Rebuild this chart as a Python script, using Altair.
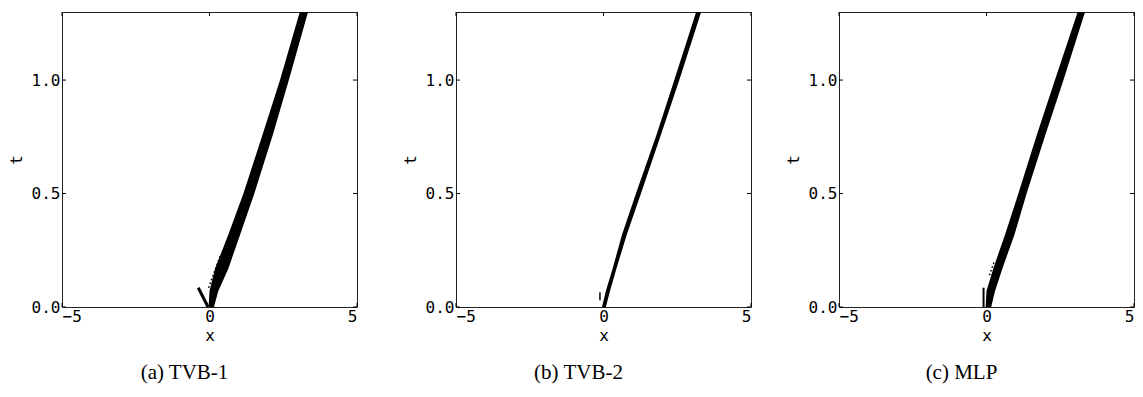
import altair as alt
import pandas as pd

# Axis ticks shared by all three panels
X_TICKS = [-5, 0, 5]
T_TICKS = [0.0, 0.5, 1.0]

# Time levels at which the troubled-cell band edges are sampled
T_LEVELS = [0.0, 0.07, 0.17, 0.32, 0.5, 0.76, 1.0, 1.3]

# (a) TVB-1: left / right edge of the flagged band
A_LEFT = [-0.03, 0.00, 0.19, 0.64, 1.15, 1.80, 2.39, 3.06]
A_RIGHT = [0.15, 0.30, 0.64, 1.04, 1.52, 2.15, 2.69, 3.34]
# short arm flagged near the origin, and a trail of isolated cells
A_ARM_X = [-0.38, -0.05]
A_ARM_T = [0.085, 0.0]
A_DOT_X = [-0.03, 0.36]
A_DOT_T = [0.085, 0.225]

# (b) TVB-2
B_LEFT = [-0.05, 0.08, 0.31, 0.63, 1.10, 1.80, 2.40, 3.14]
B_RIGHT = [0.08, 0.22, 0.44, 0.79, 1.27, 1.95, 2.57, 3.31]
B_ARM_X = [-0.12, -0.12]
B_ARM_T = [0.03, 0.065]

# (c) MLP
C_LEFT = [-0.03, 0.00, 0.23, 0.63, 1.08, 1.71, 2.32, 3.09]
C_RIGHT = [0.16, 0.29, 0.54, 0.95, 1.36, 2.00, 2.61, 3.34]
C_ARM_X = [-0.10, -0.10]
C_ARM_T = [0.0, 0.085]
C_DOT_X = [0.10, 0.26]
C_DOT_T = [0.14, 0.20]

W = 295
H = 295
MONO = "DejaVu Sans Mono"
TICK_LEN = 4

x_scale = alt.Scale(domain=[-5, 5], nice=False, zero=False)
t_scale = alt.Scale(domain=[0, 1.3], nice=False, zero=False)
x_axis = alt.Axis(values=X_TICKS, format="d", title="x", ticks=False, grid=False,
                  domain=False, labelPadding=1, titlePadding=3)
t_axis = alt.Axis(values=T_TICKS, format=".1f", title="t", ticks=False, grid=False,
                  domain=False, labelPadding=2, titlePadding=7)


def xenc(field):
    return alt.X(field, type="quantitative", scale=x_scale, axis=x_axis)


def tenc(field):
    return alt.Y(field, type="quantitative", scale=t_scale, axis=t_axis)


def inner_ticks():
    xt = pd.DataFrame({"xv": X_TICKS})
    tt = pd.DataFrame({"tv": T_TICKS})
    rule = dict(color="black", strokeWidth=1)
    top = alt.Chart(xt).mark_rule(**rule).encode(
        x=xenc("xv"), y=alt.value(0), y2=alt.value(TICK_LEN))
    bottom = alt.Chart(xt).mark_rule(**rule).encode(
        x=xenc("xv"), y=alt.value(H - TICK_LEN), y2=alt.value(H))
    left = alt.Chart(tt).mark_rule(**rule).encode(
        y=tenc("tv"), x=alt.value(0), x2=alt.value(TICK_LEN))
    right = alt.Chart(tt).mark_rule(**rule).encode(
        y=tenc("tv"), x=alt.value(W - TICK_LEN), x2=alt.value(W))
    return [top, bottom, left, right]


def panel(left, right, caption, arm=None, dots=None, arm_width=3):
    band = pd.DataFrame({"t": T_LEVELS, "lo": left, "hi": right})
    layers = [
        alt.Chart(band).mark_area(orient="horizontal", color="black", clip=True).encode(
            y=tenc("t"), x=xenc("lo"), x2="hi:Q")
    ]
    if arm is not None:
        df = pd.DataFrame({"x": arm[0], "t": arm[1], "o": [0, 1]})
        layers.append(
            alt.Chart(df).mark_line(color="black", strokeWidth=arm_width, clip=True).encode(
                x=xenc("x"), y=tenc("t"), order="o:Q"))
    if dots is not None:
        df = pd.DataFrame({"x": dots[0], "t": dots[1], "o": [0, 1]})
        layers.append(
            alt.Chart(df).mark_line(color="black", strokeWidth=1.5, strokeDash=[1.5, 2.5],
                                    clip=True).encode(
                x=xenc("x"), y=tenc("t"), order="o:Q"))
    layers += inner_ticks()
    return alt.layer(*layers).properties(
        width=W, height=H,
        title=alt.TitleParams(caption, orient="bottom", anchor="middle", dx=-25, offset=19,
                              font="Liberation Serif", fontSize=21, fontWeight="normal",
                              color="black"),
    )


pa = panel(A_LEFT, A_RIGHT, "(a) TVB-1", arm=(A_ARM_X, A_ARM_T), dots=(A_DOT_X, A_DOT_T))
pb = panel(B_LEFT, B_RIGHT, "(b) TVB-2", arm=(B_ARM_X, B_ARM_T), arm_width=1.5)
pc = panel(C_LEFT, C_RIGHT, "(c) MLP", arm=(C_ARM_X, C_ARM_T), dots=(C_DOT_X, C_DOT_T),
           arm_width=2)

chart = alt.hconcat(alt.hconcat(pa, pb, spacing=43), pc, spacing=32).properties(
    padding={"left": 7, "top": 11, "right": 0, "bottom": 0},
    background="white",
).configure_view(
    stroke="#222222", strokeWidth=1
).configure_axis(
    labelFont=MONO, labelFontSize=16, labelColor="black",
    titleFont=MONO, titleFontSize=16, titleFontWeight="normal", titleColor="black",
)

chart.save("out.html", embed_options={"renderer": "svg", "actions": False})
